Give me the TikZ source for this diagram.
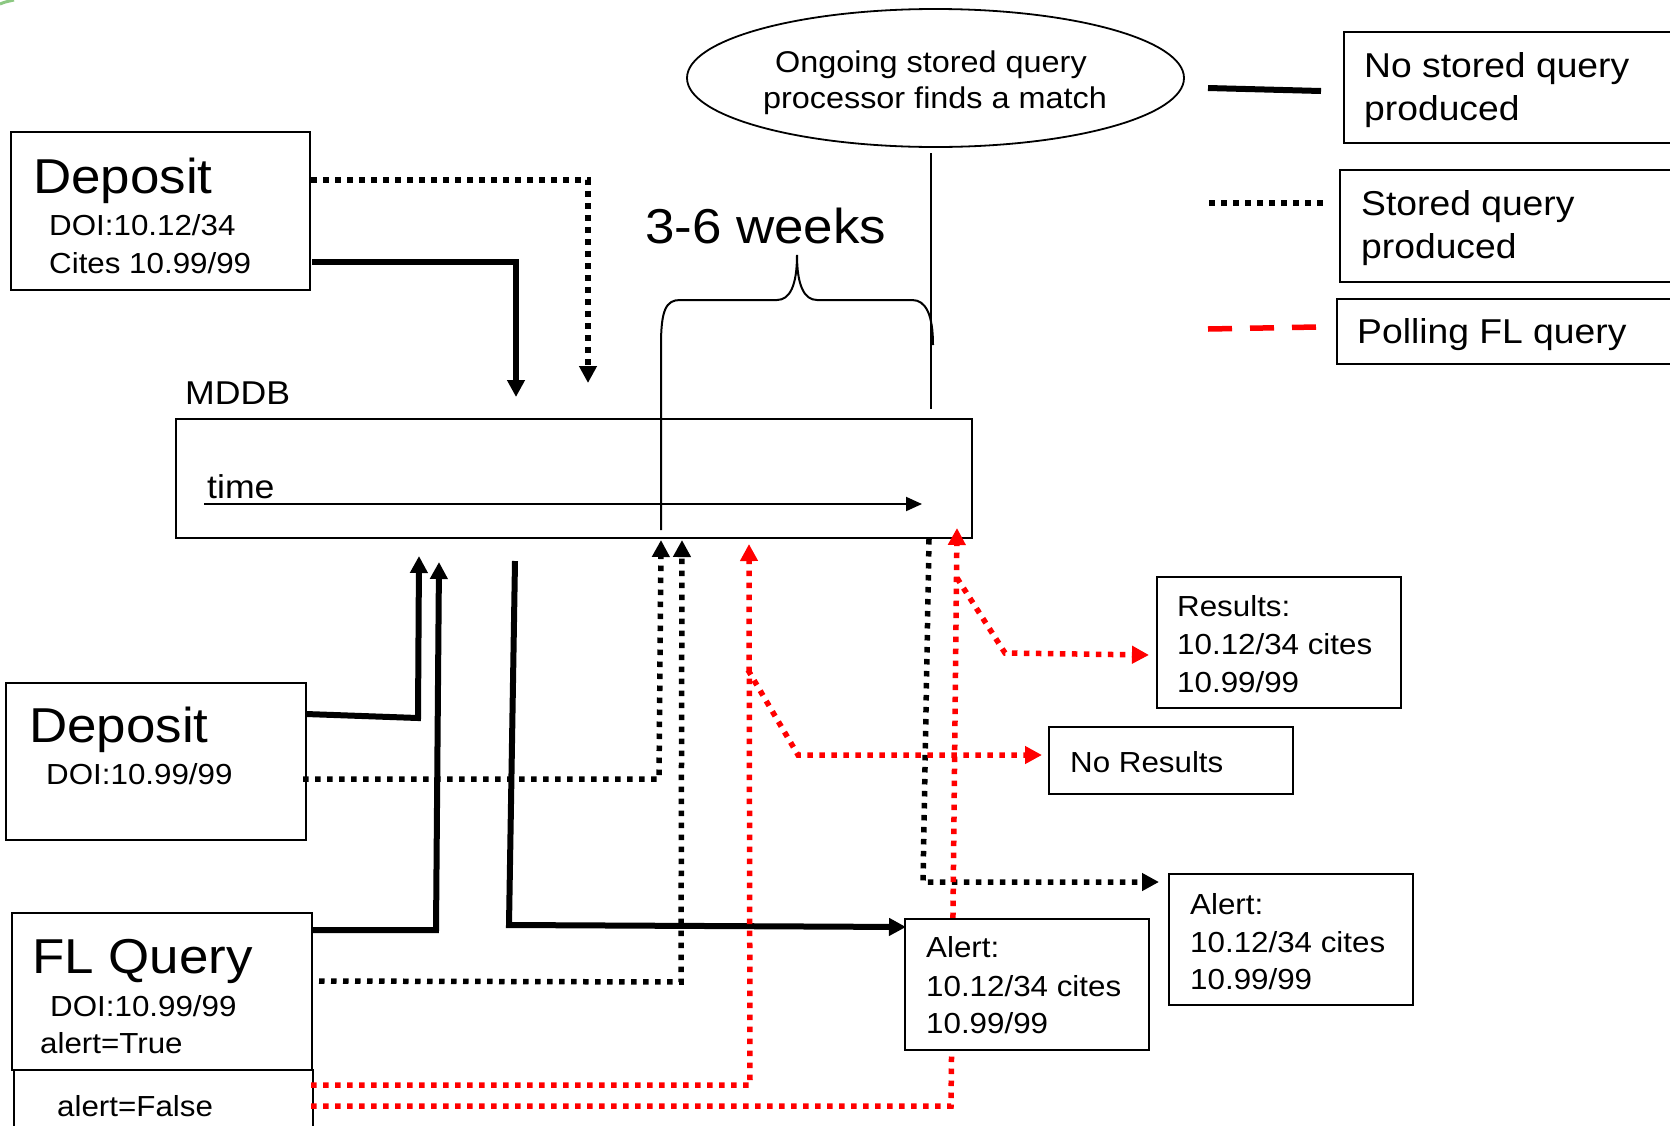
\documentclass[tikz,border=0pt]{standalone}
\usepackage{fontspec}
\setmainfont{Liberation Sans}[FakeStretch=1.08]
\usetikzlibrary{arrows.meta,shapes.geometric}
\definecolor{arcgreen}{RGB}{140,200,130}
\newcommand\myfs[1]{\fontsize{#1}{#1}\selectfont}
\begin{document}
\begin{tikzpicture}[x=1pt,y=-1pt,
  box/.style={draw,line width=2pt,inner sep=0pt,anchor=north west},
  wbox/.style={box,fill=white},
  lbl/.style={anchor=base west,inner sep=0pt},
  big/.style={lbl,font=\myfs{49}},
  mid/.style={lbl,font=\myfs{33}},
  leg/.style={lbl,font=\myfs{34.5}},
  sml/.style={lbl,font=\myfs{29}},
  elltxt/.style={anchor=base,inner sep=0pt,font=\myfs{30}},
  tip/.style={-{Triangle[width=17pt,length=17pt]}},
  solidc/.style={line width=6pt,tip},
  dotc/.style={line width=5.5pt,dash pattern=on 5.5pt off 6.5pt,tip},
  reddot/.style={dotc,draw=red},
  thinl/.style={line width=2pt},
]
\useasboundingbox (0,0) rectangle (1670,1125);
\clip (0,0) rectangle (1670,1125);

% green corner sliver
\draw[arcgreen,line width=3pt] (0,4) .. controls (5,2) .. (14,0);

% ---------- boxes ----------
\node[box,minimum width=299pt,minimum height=158pt] (dep1) at (10,131) {};
\node[big] (dep1t) at (33,193) {Deposit};
\node[sml] (dep1a) at (49,235) {DOI:10.12/34};
\node[sml] (dep1b) at (49,273) {Cites 10.99/99};

\node[mid] (mddbt) at (185,404) {MDDB};
\node[box,minimum width=796pt,minimum height=119pt] (mddb) at (175,418) {};
\node[mid] (timet) at (207,498) {time};

\node[big] (weeks) at (645,243) {3-6 weeks};

\node[draw,ellipse,line width=1.8pt,minimum width=497pt,minimum height=138pt,inner sep=0pt] (ell) at (935.5,78) {};
\node[elltxt] (ell1) at (931,72) {Ongoing stored query};
\node[elltxt] (ell2) at (935,108) {processor finds a match};

\node[box,minimum width=400pt,minimum height=111pt] (leg1) at (1343,31) {};
\node[leg] (leg1a) at (1364,77) {No stored query};
\node[leg] (leg1b) at (1364,120) {produced};
\node[box,minimum width=400pt,minimum height=112pt] (leg2) at (1339,169) {};
\node[leg] (leg2a) at (1361,215) {Stored query};
\node[leg] (leg2b) at (1361,258) {produced};
\node[box,minimum width=400pt,minimum height=65pt] (leg3) at (1336,298) {};
\node[leg] (leg3a) at (1357,343) {Polling FL query};

\node[box,minimum width=300pt,minimum height=157pt] (dep2) at (5,682) {};
\node[big] (dep2t) at (29,742) {Deposit};
\node[sml] (dep2a) at (46,784) {DOI:10.99/99};

\node[box,minimum width=300pt,minimum height=157pt] (flq) at (11,912) {};
\node[big] (flqt) at (32,973) {FL Query};
\node[sml] (flqa) at (50,1016) {DOI:10.99/99};
\node[sml] (flqb) at (40,1053) {alert=True};
\node[box,minimum width=299pt,minimum height=100pt] (alf) at (13,1069) {};
\node[sml] (alft) at (57,1116) {alert=False};

\node[box,minimum width=244pt,minimum height=131pt] (res) at (1156,576) {};
\node[sml] (resa) at (1177,616) {Results:};
\node[sml] (resb) at (1177,654) {10.12/34 cites};
\node[sml] (resc) at (1177,692) {10.99/99};

\node[box,minimum width=244pt,minimum height=67pt] (nores) at (1048,726) {};
\node[sml] (norest) at (1070,772) {No Results};

\node[box,minimum width=244pt,minimum height=131pt] (al2) at (1168,873) {};
\node[sml] (al2a) at (1190,914) {Alert:};
\node[sml] (al2b) at (1190,952) {10.12/34 cites};
\node[sml] (al2c) at (1190,989) {10.99/99};

% ---------- coordinates ----------
\coordinate (ta) at (204,504);  \coordinate (tb) at (922,504);
\coordinate (ea) at (931,153);  \coordinate (eb) at (931,409);
\coordinate (bl) at (661,345);  \coordinate (bm) at (797,255);
\coordinate (br) at (933,345);  \coordinate (blb) at (661,530);

\coordinate (s1a) at (312,262); \coordinate (s1b) at (516,262); \coordinate (s1c) at (516,397);
\coordinate (s2a) at (306,714); \coordinate (s2b) at (418,718); \coordinate (s2c) at (419,556);
\coordinate (s3a) at (311,930); \coordinate (s3b) at (436,930); \coordinate (s3c) at (439,562);
\coordinate (s4a) at (515,561); \coordinate (s4b) at (509,925); \coordinate (s4c) at (906,927);

\coordinate (d1a) at (311,180); \coordinate (d1b) at (588,180); \coordinate (d1c) at (588,383);
\coordinate (d2a) at (303,779); \coordinate (d2b) at (659,779); \coordinate (d2c) at (661,540);
\coordinate (d3a) at (319,981); \coordinate (d3b) at (681,982); \coordinate (d3c) at (682,540);
\coordinate (d4a) at (929,539); \coordinate (d4b) at (923,882); \coordinate (d4c) at (1159,882);

\coordinate (r1a) at (311,1085); \coordinate (r1b) at (750,1085); \coordinate (r1c) at (749,544);
\coordinate (r1d) at (748,670);  \coordinate (r1e) at (798,755);  \coordinate (r1f) at (1042,755);
\coordinate (r2a) at (311,1106); \coordinate (r2b) at (951,1106); \coordinate (r2c) at (957,528);
\coordinate (r2d) at (957,578);  \coordinate (r2e) at (1005,653); \coordinate (r2f) at (1149,655);

\coordinate (l1a) at (1208,88);  \coordinate (l1b) at (1321,91);
\coordinate (l2a) at (1209,203); \coordinate (l2b) at (1325,203);
\coordinate (l3a) at (1208,329); \coordinate (l3b) at (1317,327);

% ---------- thin lines ----------
\draw[thinl,-{Triangle[width=14pt,length=16pt]}] (ta) -- (tb);
\draw[thinl] (ea) -- (eb);
\draw[thinl] (blb) -- (bl)
  .. controls (661,310) and (666,300) .. (680,300) -- (777,300)
  .. controls (790,300) and (797,285) .. (bm)
  .. controls (797,285) and (804,300) .. (817,300) -- (912,300)
  .. controls (926,300) and (933,315) .. (br);

% ---------- connectors ----------
\draw[solidc] (s1a) -- (s1b) -- (s1c);
\draw[solidc] (s2a) -- (s2b) -- (s2c);
\draw[solidc] (s3a) -- (s3b) -- (s3c);
\draw[solidc] (s4a) -- (s4b) -- (s4c);

\draw[dotc] (d1a) -- (d1b) -- (d1c);
\draw[dotc] (d2a) -- (d2b) -- (d2c);
\draw[dotc] (d3a) -- (d3b) -- (d3c);
\draw[dotc] (d4a) -- (d4b) -- (d4c);

\draw[reddot] (r1a) -- (r1b) -- (r1c);
\draw[reddot] (r1d) -- (r1e) -- (r1f);
\draw[reddot] (r2a) -- (r2b) -- (r2c);
\draw[reddot] (r2d) -- (r2e) -- (r2f);

% ---------- legend lines ----------
\draw[line width=6pt] (l1a) -- (l1b);
\draw[line width=5.5pt,dash pattern=on 5.5pt off 6.5pt] (l2a) -- (l2b);
\draw[red,line width=5.5pt,dash pattern=on 24pt off 18pt] (l3a) -- (l3b);

% ---------- alert box drawn over the red line ----------
\node[wbox,minimum width=244pt,minimum height=131pt] (al1) at (904,918) {};
\node[sml] (al1a) at (926,957) {Alert:};
\node[sml] (al1b) at (926,996) {10.12/34 cites};
\node[sml] (al1c) at (926,1033) {10.99/99};
\end{tikzpicture}
\end{document}
